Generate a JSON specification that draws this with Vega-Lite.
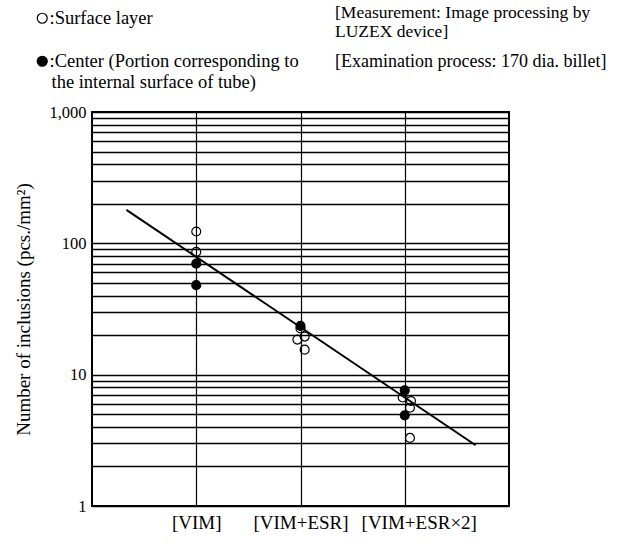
{
  "$schema": "https://vega.github.io/schema/vega-lite/v6.json",
  "autosize": "none",
  "width": 417,
  "height": 394,
  "padding": {"left": 92, "top": 112, "right": 111, "bottom": 38},
  "background": "white",
  "config": {
    "font": "Liberation Serif",
    "view": {"stroke": "black", "strokeWidth": 2},
    "axis": {"labelFont": "Liberation Serif", "titleFont": "Liberation Serif", "labelColor": "black", "titleColor": "black"}
  },
  "title": {
    "text": ["[Measurement: Image processing by", " LUZEX device]"],
    "subtitle": "[Examination process: 170 dia. billet]",
    "anchor": "start",
    "frame": "group",
    "dx": 243,
    "offset": -62,
    "font": "Liberation Serif",
    "fontSize": 17.5,
    "fontWeight": "normal",
    "color": "black",
    "lineHeight": 19,
    "subtitleFont": "Liberation Serif",
    "subtitleFontSize": 18,
    "subtitleColor": "black",
    "subtitlePadding": 13
  },
  "layer": [
    {
      "data": {"values": [
        {"x": 1, "y": 123, "layer": "Surface"},
        {"x": 1, "y": 86, "layer": "Surface"},
        {"x": 1, "y": 70, "layer": "Center"},
        {"x": 1, "y": 48, "layer": "Center"},
        {"x": 2, "y": 23.5, "layer": "Center"},
        {"x": 2, "y": 22.5, "layer": "Surface"},
        {"x": 1.97, "y": 18.5, "layer": "Surface"},
        {"x": 2.04, "y": 19.5, "layer": "Surface"},
        {"x": 2.04, "y": 15.5, "layer": "Surface"},
        {"x": 3, "y": 7.6, "layer": "Center"},
        {"x": 3, "y": 4.9, "layer": "Center"},
        {"x": 2.98, "y": 6.7, "layer": "Surface"},
        {"x": 3.06, "y": 6.3, "layer": "Surface"},
        {"x": 3.05, "y": 5.6, "layer": "Surface"},
        {"x": 3.05, "y": 3.3, "layer": "Surface"}
      ]},
      "mark": {"type": "point", "shape": "circle", "stroke": "black", "strokeWidth": 1.2, "size": 80, "fillOpacity": 1, "opacity": 1},
      "encoding": {
        "x": {
          "field": "x", "type": "quantitative",
          "scale": {"domain": [0, 4], "nice": false, "zero": false},
          "axis": {
            "values": [1, 2, 3],
            "labelExpr": "datum.value == 1 ? '[VIM]' : datum.value == 2 ? '[VIM+ESR]' : '[VIM+ESR×2]'",
            "title": null,
            "grid": true, "gridColor": "black", "gridWidth": 1.2, "gridOpacity": 1,
            "ticks": false, "domain": false,
            "labelFontSize": 19, "labelPadding": 7, "labelFlush": false, "labelOverlap": false, "labelBound": false,
            "labelOffset": {"condition": {"test": "datum.value == 3", "value": 14}, "value": 0}
          }
        },
        "y": {
          "field": "y", "type": "quantitative",
          "scale": {"type": "log", "domain": [1, 1000], "nice": false},
          "axis": {
            "values": [1, 2, 3, 4, 5, 6, 7, 8, 9, 10, 20, 30, 40, 50, 60, 70, 80, 90, 100, 200, 300, 400, 500, 600, 700, 800, 900, 1000],
            "labelExpr": "datum.value == 1 ? '1' : datum.value == 10 ? '10' : datum.value == 100 ? '100' : datum.value == 1000 ? '1,000' : ''",
            "title": "Number of inclusions (pcs./mm²)",
            "titleFontSize": 19, "titleFontWeight": "normal", "titlePadding": 15,
            "grid": true, "gridColor": "black", "gridWidth": 1.4, "gridOpacity": 1,
            "ticks": false, "domain": false,
            "labelFontSize": 16.5, "labelPadding": 6, "labelFlush": false, "labelOverlap": false
          }
        },
        "fill": {
          "field": "layer", "type": "nominal",
          "scale": {"domain": ["Surface", "Center"], "range": ["transparent", "black"]},
          "legend": {
            "orient": "none", "legendX": -59, "legendY": -103,
            "title": "\u200b\u00a0\u00a0\u00a0\u00a0the internal surface of tube)",
            "titleOrient": "bottom", "titleAnchor": "start", "titleAlign": "left",
            "titleFont": "Liberation Serif", "titleFontSize": 18.5, "titleFontWeight": "normal", "titleColor": "black",
            "titlePadding": 2, "titleLimit": 400,
            "symbolType": "circle", "symbolSize": 100,
            "symbolStrokeColor": "black", "symbolStrokeWidth": 1.2,
            "labelFont": "Liberation Serif", "labelFontSize": 18.5, "labelColor": "black",
            "labelOffset": -2, "rowPadding": 24, "labelLimit": 400,
            "labelExpr": "datum.label == 'Surface' ? ':Surface layer' : ':Center (Portion corresponding to'"
          }
        }
      }
    },
    {
      "data": {"values": [
        {"x": 0.33, "y": 180},
        {"x": 3.68, "y": 2.9}
      ]},
      "mark": {"type": "line", "color": "black", "strokeWidth": 2},
      "encoding": {
        "x": {"field": "x", "type": "quantitative"},
        "y": {"field": "y", "type": "quantitative"}
      }
    }
  ]
}
